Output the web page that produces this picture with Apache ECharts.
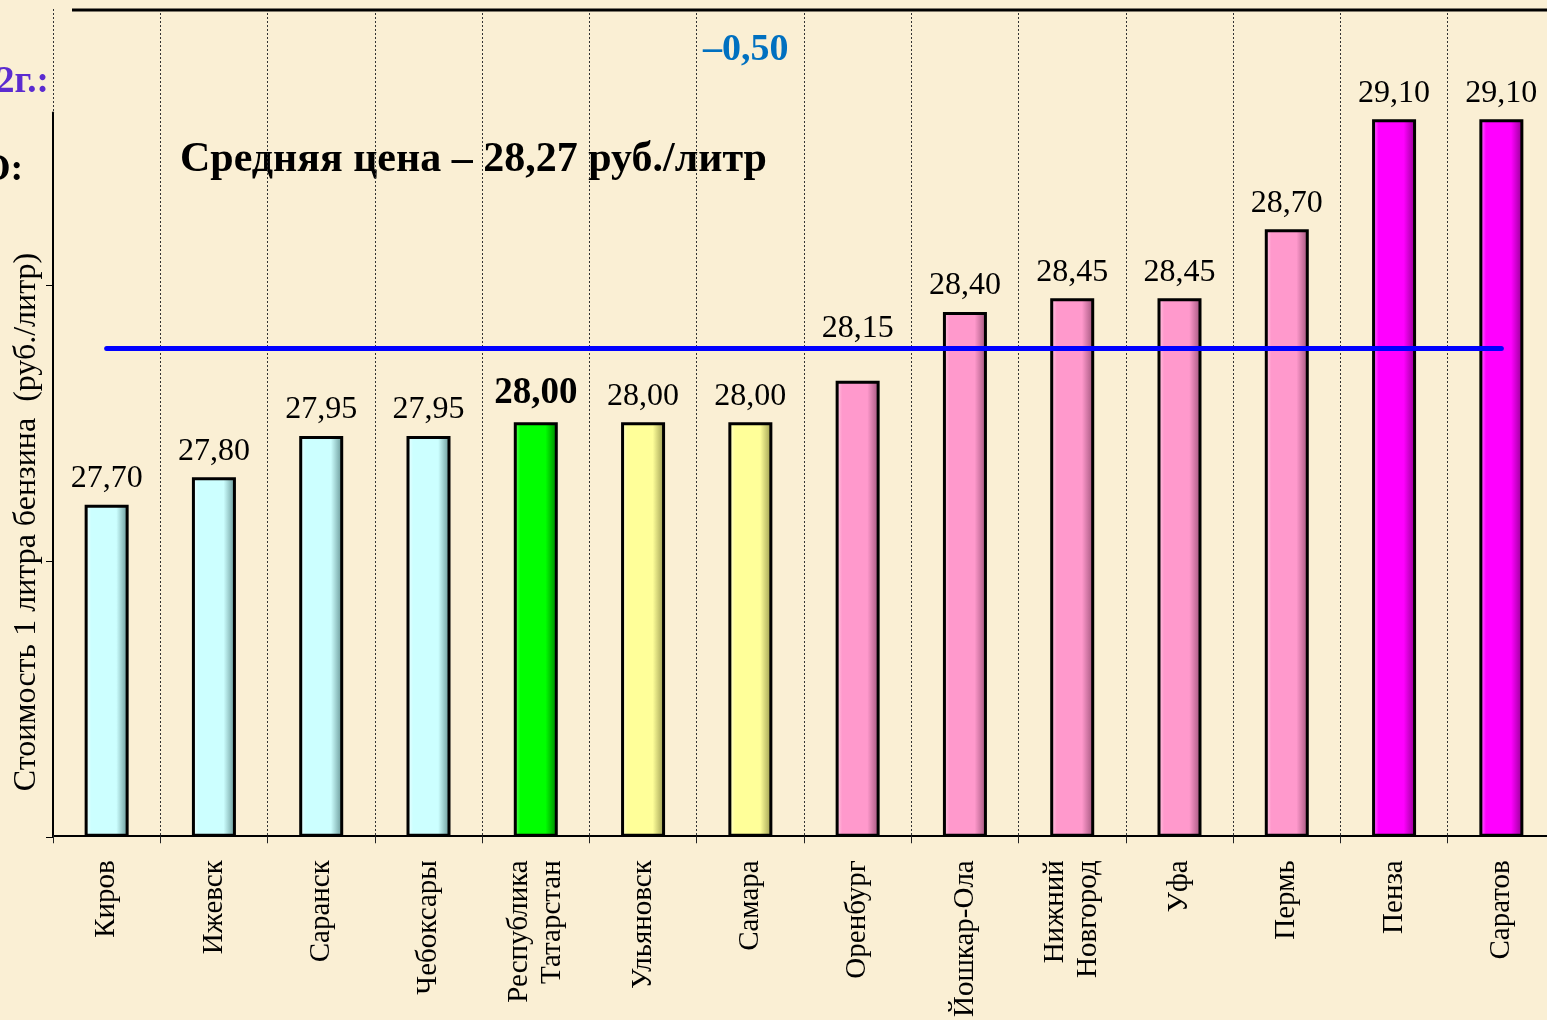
<!DOCTYPE html>
<html><head><meta charset="utf-8">
<script src="https://cdn.jsdelivr.net/npm/echarts@6/dist/echarts.min.js"></script>
<style>html,body{margin:0;padding:0;background:#FAEFD4;overflow:hidden;}#c{width:1555px;height:1020px;}</style>
</head><body><div id="c"></div>
<script>
const categories = ['Киров','Ижевск','Саранск','Чебоксары','Республика\nТатарстан','Ульяновск','Самара','Оренбург','Йошкар-Ола','Нижний\nНовгород','Уфа','Пермь','Пенза','Саратов'];
const prices = [27.70, 27.80, 27.95, 27.95, 28.00, 28.00, 28.00, 28.15, 28.40, 28.45, 28.45, 28.70, 29.10, 29.10];
const priceGroup = ['low','low','low','low','home','mid','mid','high','high','high','high','high','top','top'];
const averagePrice = 28.27;
const yTicks = [26.5, 27.5, 28.5];
const highlightIndex = 4;
const raisedLabelIndex = 7;

const palette = {
  low:  ['#F2FFFF', '#CCFFFF', '#5F8E8E'],
  home: ['#7DFF7D', '#00FF00', '#007A00'],
  mid:  ['#FFFFDD', '#FFFF99', '#94944A'],
  high: ['#FFD0E6', '#FF99CC', '#9A5077'],
  top:  ['#FF8CFF', '#FF00FF', '#8A008A']
};
function grad(c){
  return new echarts.graphic.LinearGradient(0,0,1,0,[
    {offset:0,color:c[0]},{offset:0.15,color:c[1]},{offset:0.72,color:c[1]},{offset:1,color:c[2]}]);
}
const serif = '"Liberation Serif","Times New Roman",serif';
const barData = prices.map((v,i)=>{
  const item = {value:v, itemStyle:{color:grad(palette[priceGroup[i]])}};
  if(i===highlightIndex){ item.label = {fontWeight:'bold', fontSize:37}; }
  if(i===raisedLabelIndex){ item.label = {distance:36}; }
  return item;
});

const chart = echarts.init(document.getElementById('c'), null, {renderer:'canvas'});
chart.setOption({
  backgroundColor:'#FAEFD4',
  animation:false,
  grid:[
    {left:53, right:0, top:9, bottom:183},
    {left:53, right:0, top:112.5, bottom:183}
  ],
  xAxis:[
    {type:'category', gridIndex:0, data:categories,
     axisLine:{show:true, lineStyle:{color:'#000', width:2}},
     axisTick:{show:true, interval:0, length:8, lineStyle:{color:'#222', width:1}},
     axisLabel:{interval:0, rotate:90, margin:25, fontFamily:serif, fontSize:29, color:'#000', lineHeight:33},
     splitLine:{show:true, interval:0, lineStyle:{color:'#333', width:1, type:[2,2]}}},
    {type:'category', gridIndex:1, data:categories, show:false}
  ],
  yAxis:[
    {type:'value', gridIndex:0, min:26.5, max:29.5, interval:1,
     axisLine:{show:false}, axisTick:{show:false}, axisLabel:{show:false}, splitLine:{show:false}},
    {type:'value', gridIndex:1, min:26.5, max:29.125, interval:1,
     axisLine:{show:true, lineStyle:{color:'#000', width:2}},
     axisTick:{show:true, length:7, customValues:yTicks, lineStyle:{color:'#000', width:1}},
     axisLabel:{show:false}, splitLine:{show:false}}
  ],
  series:[{
    type:'bar', xAxisIndex:0, yAxisIndex:0, data:barData, barWidth:44,
    itemStyle:{borderColor:'#000', borderWidth:3},
    label:{show:true, position:'top', distance:10, fontFamily:serif, fontSize:32, color:'#000',
      formatter:p=>p.value.toFixed(2).replace('.',',')},
    markLine:{silent:true, symbol:['none','none'], label:{show:false},
      lineStyle:{color:'#0000FF', width:5, type:'solid', cap:'round'},
      data:[[{coord:[categories[0], averagePrice]},{coord:[categories[categories.length-1], averagePrice]}]]}
  }],
  graphic:[
    {type:'line', shape:{x1:72,y1:10,x2:1555,y2:10}, style:{stroke:'#000', lineWidth:3}, z:10},
    {type:'text', x:27, y:522, rotation:Math.PI/2,
     style:{text:'Стоимость 1 литра бензина  (руб./литр)', font:'32px '+serif, fill:'#000', align:'center', verticalAlign:'middle'}},
    {type:'text', x:-4, y:82, style:{text:'2г.:', font:'bold 37px '+serif, fill:'#5B2BD0', align:'left', verticalAlign:'middle'}},
    {type:'text', x:-19, y:170, style:{text:'О:', font:'bold 38px '+serif, fill:'#000', align:'left', verticalAlign:'middle'}},
    {type:'text', x:703, y:50, style:{text:'–0,50', font:'bold 38px '+serif, fill:'#0070C0', align:'left', verticalAlign:'middle'}},
    {type:'text', x:180, y:160, style:{text:'Средняя цена – 28,27 руб./литр', font:'bold 42px '+serif, fill:'#000', align:'left', verticalAlign:'middle'}}
  ]
});
</script></body></html>
